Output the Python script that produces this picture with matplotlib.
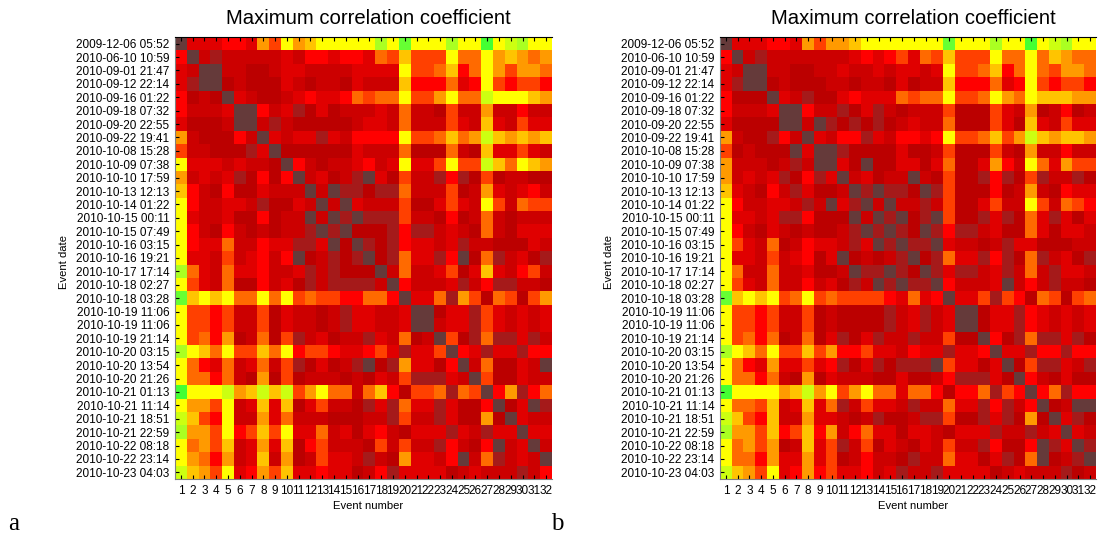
import matplotlib
matplotlib.use('Agg')
import matplotlib.pyplot as plt
from matplotlib.colors import ListedColormap
import numpy as np

plt.rcParams['font.family'] = ['Liberation Sans', 'DejaVu Sans']

event_dates = ['2009-12-06 05:52', '2010-06-10 10:59', '2010-09-01 21:47', '2010-09-12 22:14',
               '2010-09-16 01:22', '2010-09-18 07:32', '2010-09-20 22:55', '2010-09-22 19:41',
               '2010-10-08 15:28', '2010-10-09 07:38', '2010-10-10 17:59', '2010-10-13 12:13',
               '2010-10-14 01:22', '2010-10-15 00:11', '2010-10-15 07:49', '2010-10-16 03:15',
               '2010-10-16 19:21', '2010-10-17 17:14', '2010-10-18 02:27', '2010-10-18 03:28',
               '2010-10-19 11:06', '2010-10-19 11:06', '2010-10-19 21:14', '2010-10-20 03:15',
               '2010-10-20 13:54', '2010-10-20 21:26', '2010-10-21 01:13', '2010-10-21 11:14',
               '2010-10-21 18:51', '2010-10-21 22:59', '2010-10-22 08:18', '2010-10-22 23:14',
               '2010-10-23 04:03']
event_numbers = list(range(1, 33))

# colour classes, one hex digit per cell
level_colors = ['#653a3a', '#a51a1a', '#bb0000', '#cc0000', '#e00000', '#ff0000', '#ff4000',
                '#ff6a00', '#ff9a00', '#ffc400', '#ffff00', '#ccff11', '#aaff22', '#66ff33',
                '#44ff33']

rows_a = [
    '044455486a89aaaaacadaaacaaeabcaa',
    '50313333343554554769666a77a89878',
    '4300332234433334444a667957a86887',
    '41002322243233243339555745a65665',
    '5232043223454457677a668a77baaa98',
    '53334005341242333437332633833533',
    '42223003132222234437333643943644',
    '8322253043441435555a667978b98989',
    '63322214022222243337222732944643',
    'a444343320532334534a446a66b97a98',
    '83434125250342310426331512623322',
    '95325224333030112117333623843453',
    'a5334431224303043336224643a63766',
    'a4334225233030101116332523732333',
    'a5325323233101022215113432732444',
    'a5447335441140201215443413322243',
    'a4436345350231210217441502713421',
    'c7437445334131222037334624943563',
    'a6437225342131111305333413511332',
    'd9a9a77a7a6766557750447186276268',
    'a6656336243323144334002441643434',
    'a6656336243323144334003441643434',
    'a6758237261342331437230621711413',
    'ca97a6697a5665445641446054144155',
    'a7547347361242310218442503722430',
    'a7757328262333232436111430622433',
    'eaaab89b9b68a7737952667176058157',
    'a886a349492463321417441422502401',
    'b965a338473332223316331422820433',
    'c886a5696a4473424532444143144044',
    'a7869348492563332636331532503403',
    'a8758349382364431328443503713430',
    'b986a458694454423514444234333135',
]

rows_b = [
    '044455486889aaaaaaadaaacaaeabcaa',
    '50313333333454564769666a77a79877',
    '4300332233433434434a667957a76887',
    '41002322233233242339555745a65665',
    '5222043122454447677a667a87a99988',
    '53334005331241323336222643823523',
    '42222003012121234337222642943644',
    '8322153043551435545a667968b98998',
    '62322204001222242236222632833533',
    '83332313004202244247224853a74866',
    '83434125140342330326221512613312',
    '94325314223010112016222523832544',
    'a5334431304103033136224633a63765',
    'a4434115222030102106221412741424',
    'a5324323223101012015113422742443',
    'a6437235443140101104332314422233',
    'a4436345240232310217441512713421',
    'a7337334223011012014113413731443',
    'a6437335342130101105333403531332',
    'd9a9a67a676666547450446165276267',
    'a6656336232222134134002441543434',
    'a6656336232222134134002441543434',
    'a6757237241241331336220521711412',
    'ca97a669685564435441445044155155',
    'a7548446451241211106442402611431',
    'a7757328243332242235111420532422',
    'eaaaa89b8a68a7747752557165057155',
    'a7769349471364431337441513502300',
    'b9659338443231223116221412820412',
    'c8869569583574424432444133134043',
    'a7868239461362432436331522501401',
    'a7758448462353321337442412702310',
    'b986a458564453413314444234333123',
]

panels = [(rows_a, 175, 552, 'a', 8), (rows_b, 720, 1096, 'b', 551)]
W, H = 1100, 534
top_px, bottom_px = 37, 479

fig = plt.figure(figsize=(W / 100, H / 100), dpi=100)
cmap = ListedColormap(level_colors)

for rows, x0, x1, tag, tag_x in panels:
    z = np.array([[int(ch, 16) for ch in row] for row in rows])
    ax = fig.add_axes([x0 / W, 1 - bottom_px / H, (x1 - x0) / W, (bottom_px - top_px) / H])
    ax.imshow(z, cmap=cmap, vmin=-0.5, vmax=len(level_colors) - 0.5, aspect='auto',
              interpolation='nearest', extent=(0.5, 32.5, 33.5, 0.5))
    ax.set_xticks(event_numbers)
    ax.set_xticklabels(event_numbers, fontsize=8.5)
    ax.set_yticks(range(1, 34))
    ax.set_yticklabels(event_dates, fontsize=8.5)
    ax.tick_params(direction='in', top=True, length=3, width=0.8, color='black')
    ax.tick_params(axis='x', pad=4)
    ax.tick_params(axis='y', pad=4)
    ax.spines['right'].set_visible(False)
    ax.spines['left'].set_color('#808080')
    ax.spines['bottom'].set_color('#808080')
    # labels sit a little right of the axes centre in the original
    fig.text((x0 + x1 + 10) / 2 / W, 1 - 18 / H, 'Maximum correlation coefficient',
             fontsize=14.6, ha='center', va='center')
    fig.text((x0 + x1 + 10) / 2 / W, 1 - 506 / H, 'Event number', fontsize=8.1,
             ha='center', va='center')
    fig.text((x0 - 111) / W, 1 - 262 / H, 'Event date', fontsize=8.1, rotation=90,
             ha='center', va='center')
    fig.text(tag_x / W, 1 - 530 / H, tag, family='Liberation Serif', fontsize=18, va='baseline')

fig.savefig('out.png', dpi=100)
